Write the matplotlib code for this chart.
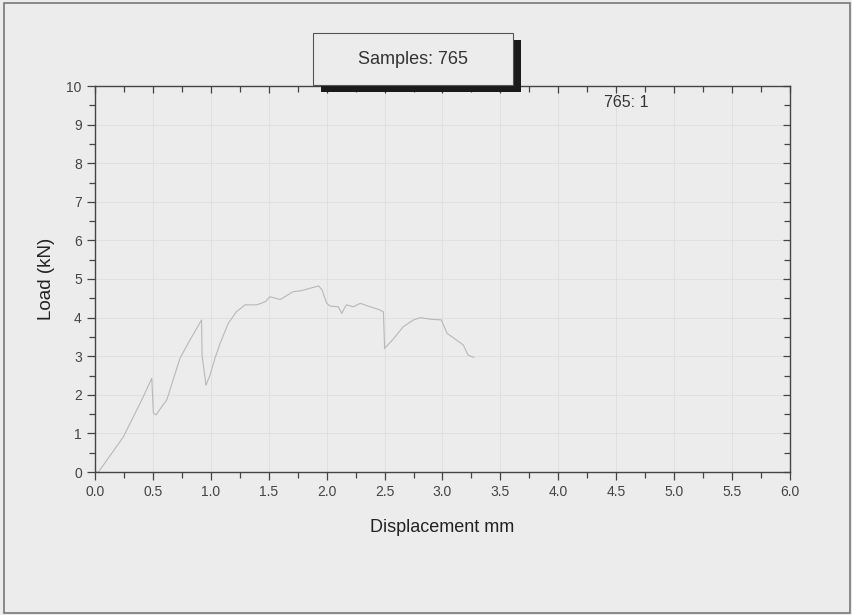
import matplotlib
matplotlib.use("Agg")
import matplotlib.pyplot as plt
from matplotlib.patches import Rectangle
from matplotlib.ticker import MultipleLocator, FormatStrFormatter

plt.rcParams['font.family'] = ['Liberation Sans', 'DejaVu Sans']

# Load-displacement record for sample 765, test 1
displacement = [0.00, 0.03, 0.245, 0.417, 0.49, 0.504, 0.527, 0.576, 0.62, 0.734, 0.82,
                0.92, 0.925, 0.958, 0.993, 1.036, 1.08, 1.15, 1.22, 1.295, 1.396, 1.47,
                1.51, 1.6, 1.71, 1.785, 1.856, 1.93, 1.96, 2.0, 2.03, 2.10, 2.13, 2.17,
                2.23, 2.29, 2.375, 2.45, 2.49, 2.50, 2.58, 2.66, 2.75, 2.81, 2.89, 2.99,
                3.04, 3.12, 3.18, 3.22, 3.27]
load = [0.00, 0.0, 0.91, 1.95, 2.43, 1.52, 1.48, 1.69, 1.87, 2.95, 3.42,
        3.94, 3.0, 2.25, 2.51, 2.95, 3.33, 3.85, 4.15, 4.33, 4.33, 4.41,
        4.54, 4.47, 4.67, 4.70, 4.76, 4.82, 4.72, 4.37, 4.30, 4.28, 4.11, 4.33,
        4.28, 4.37, 4.28, 4.21, 4.15, 3.20, 3.46, 3.76, 3.94, 4.00, 3.96, 3.94,
        3.59, 3.42, 3.29, 3.03, 2.97]

x_ticks = [0.0, 0.5, 1.0, 1.5, 2.0, 2.5, 3.0, 3.5, 4.0, 4.5, 5.0, 5.5, 6.0]
y_ticks = [0, 1, 2, 3, 4, 5, 6, 7, 8, 9, 10]

bg = '#ececec'
axis_col = '#444444'
fig = plt.figure(figsize=(8.53, 6.15), dpi=100, facecolor=bg)
rect = [95/853, 1 - 472/615, (790 - 95)/853, (472 - 86)/615]
ax = fig.add_axes(rect)
ax.set_facecolor(bg)

ax.plot(displacement, load, color='#b8b8b8', lw=0.8)

ax.set_xlim(0, 6)
ax.set_ylim(0, 10)
ax.set_xticks(x_ticks)
ax.set_yticks(y_ticks)
ax.xaxis.set_major_formatter(FormatStrFormatter('%.1f'))
ax.xaxis.set_minor_locator(MultipleLocator(0.25))
ax.yaxis.set_minor_locator(MultipleLocator(0.5))
ax.grid(True, which='major', color='#dcdcdc', lw=0.5)

ax.tick_params(which='both', direction='out', colors=axis_col, labelcolor='#444444',
               labelsize=10, width=0.9)
ax.tick_params(which='major', length=6)
ax.tick_params(which='minor', length=4)
for s in ax.spines.values():
    s.set_color(axis_col)
    s.set_linewidth(1.0)

# inward ticks along the top and right edges
frame = fig.add_axes(rect, facecolor='none', sharex=ax)
frame.set_ylim(0, 10)
frame.set_yticks(y_ticks)
frame.yaxis.set_minor_locator(MultipleLocator(0.5))
frame.tick_params(which='both', direction='in', colors=axis_col, width=0.9,
                  top=True, right=True, bottom=False, left=False,
                  labeltop=False, labelright=False, labelbottom=False, labelleft=False)
frame.tick_params(which='major', length=5)
frame.tick_params(which='minor', length=4)
for s in frame.spines.values():
    s.set_visible(False)

ax.set_xlabel('Displacement mm', fontsize=13, color='#222222', labelpad=14)
ax.set_ylabel('Load (kN)', fontsize=13.5, color='#222222', labelpad=8)

ax.text(4.39, 9.56, '765: 1', fontsize=11.5, color='#333333', va='center', ha='left')

# sample box with drop shadow
fig.patches.append(Rectangle((321/853, 1 - 92/615), 200/853, 52/615,
                             transform=fig.transFigure, facecolor='#1a1a1a',
                             edgecolor='none', zorder=5))
fig.patches.append(Rectangle((313/853, 1 - 85/615), 200/853, 52/615,
                             transform=fig.transFigure, facecolor=bg,
                             edgecolor='#555555', lw=0.8, zorder=6))
fig.text(413/853, 1 - 59/615, 'Samples: 765', fontsize=13, color='#333333',
         ha='center', va='center', zorder=7)

# outer frame
fig.patches.append(Rectangle((4/853, 2/615), 846/853, 610/615,
                             transform=fig.transFigure, facecolor='none',
                             edgecolor='#777777', lw=1.2))

fig.savefig('out.png', dpi=100, facecolor=bg)
